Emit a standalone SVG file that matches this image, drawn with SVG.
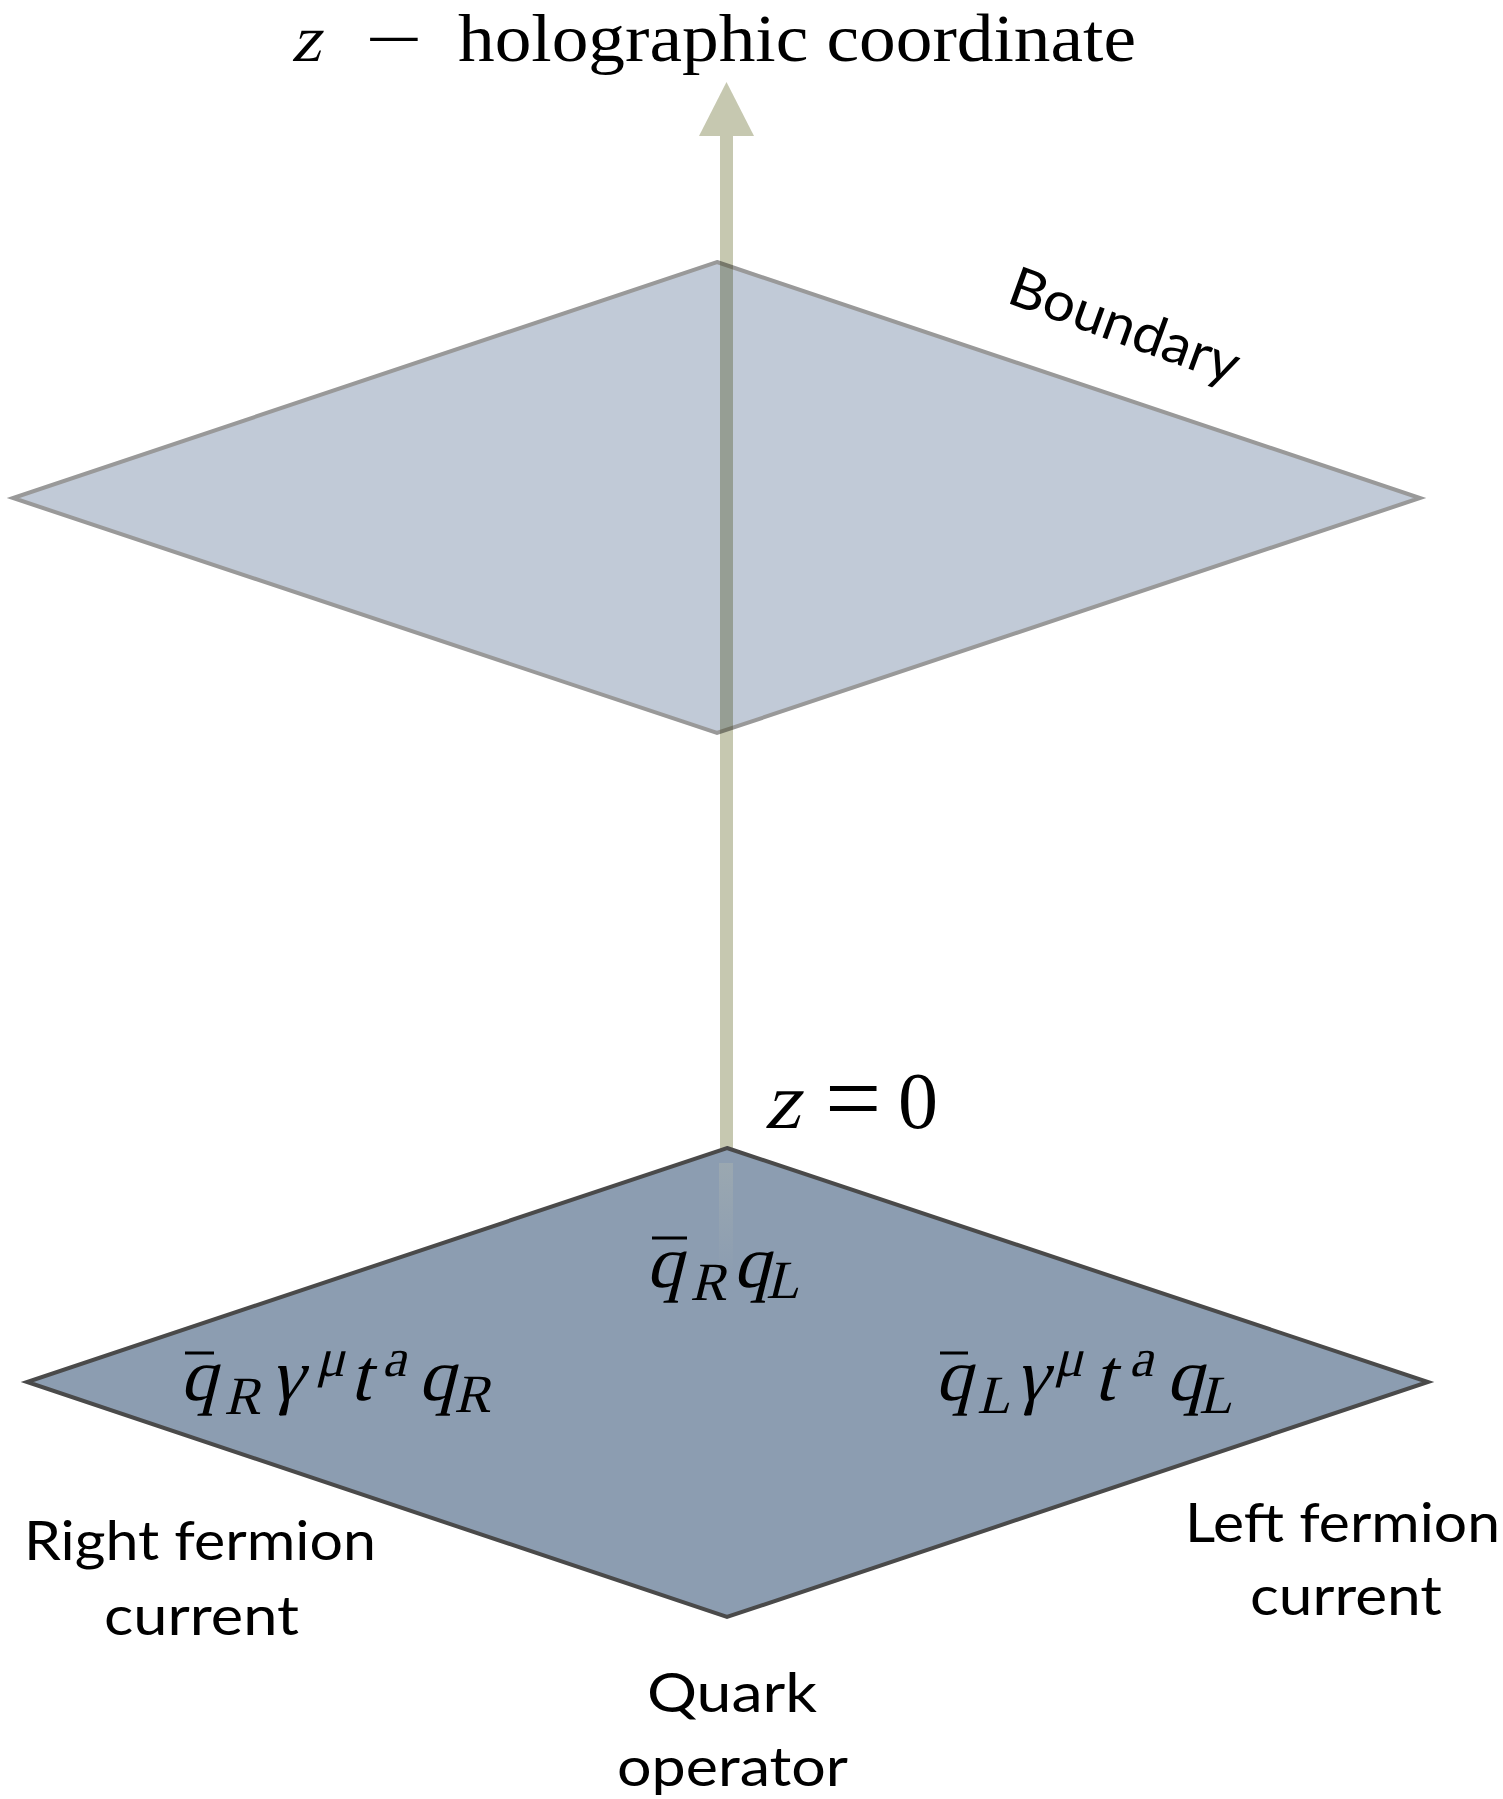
<svg xmlns="http://www.w3.org/2000/svg" width="1503" height="1799" viewBox="0 0 1503 1799">
<style>
.serif{font-family:"Liberation Serif","DejaVu Serif",serif;fill:#000}
.lbl{font-family:Lato,"Open Sans","Liberation Sans",sans-serif;fill:#000;font-size:55px}
.m{font-family:"Liberation Serif","DejaVu Serif",serif;fill:#000;font-size:74px}
.s{font-family:"Liberation Serif","DejaVu Serif",serif;fill:#000;font-size:54px}
.bar{stroke:#000;stroke-width:3}
</style>
<defs>
<linearGradient id="fade" x1="0" y1="0" x2="0" y2="1">
<stop offset="0" stop-color="#c6c8b0" stop-opacity="0.25"/>
<stop offset="1" stop-color="#c6c8b0" stop-opacity="0"/>
</linearGradient>
</defs>
<rect width="1503" height="1799" fill="#fff"/>

<g id="boundary-plane">
<polygon points="717,262 1420,498 717,733 13,498" fill="#c1cad7" stroke="#999999" stroke-width="4"/>
</g>

<g id="connectors" style="mix-blend-mode:multiply">
<rect x="720" y="134" width="13" height="1016" fill="#c6c8b0"/>
<polygon points="726.5,82 699,136 754,136" fill="#c6c8b0"/>
</g>

<g id="z0-plane">
<polygon points="727,1148 1428,1382 727,1617 27,1382" fill="#8c9db1" stroke="#4a4a4a" stroke-width="4"/>
<rect x="719" y="1163" width="14" height="110" fill="url(#fade)"/>
</g>

<g id="axis-label">
<text class="serif" transform="translate(291,61) skewX(-14)" font-size="66">z</text>
<text class="serif" transform="translate(365,61) scale(1.55,1)" font-size="66">−</text>
<text class="serif" x="458" y="61" font-size="67" textLength="678" lengthAdjust="spacingAndGlyphs">holographic coordinate</text>
</g>

<g id="boundary-label">
<text class="lbl" transform="translate(1005,302) rotate(20)" textLength="241" lengthAdjust="spacingAndGlyphs">Boundary</text>
</g>

<g id="z0-label">
<text class="serif" transform="translate(764,1128) skewX(-14)" font-size="80">z</text>
<text class="serif" x="825" y="1132" font-size="100">=</text>
<text class="serif" x="898" y="1128" font-size="80">0</text>
</g>

<g id="quark-operator-formula">
<line class="bar" x1="652" y1="1238" x2="687" y2="1238"/>
<text class="m" transform="translate(646,1287) skewX(-14)">q</text>
<text class="s" transform="translate(690,1300) skewX(-14)">R</text>
<text class="m" transform="translate(733,1287) skewX(-14)">q</text>
<text class="s" transform="translate(766,1298) skewX(-14)">L</text>
</g>

<g id="right-current-formula">
<line class="bar" x1="185" y1="1353" x2="214" y2="1353"/>
<text class="m" transform="translate(180,1400) skewX(-14)">q</text>
<text class="s" transform="translate(224,1414) skewX(-14)">R</text>
<text class="m" transform="translate(270,1400) skewX(-14)">γ</text>
<text class="s" transform="translate(316,1376) skewX(-14)">μ</text>
<text class="m" transform="translate(350,1400) skewX(-14)">t</text>
<text class="s" transform="translate(382,1376) skewX(-14)">a</text>
<text class="m" transform="translate(418,1400) skewX(-14)">q</text>
<text class="s" transform="translate(454,1412) skewX(-14)">R</text>
</g>

<g id="left-current-formula">
<line class="bar" x1="940" y1="1353" x2="968" y2="1353"/>
<text class="m" transform="translate(935,1400) skewX(-14)">q</text>
<text class="s" transform="translate(977,1413) skewX(-14)">L</text>
<text class="m" transform="translate(1015,1400) skewX(-14)">γ</text>
<text class="s" transform="translate(1054,1376) skewX(-14)">μ</text>
<text class="m" transform="translate(1094,1400) skewX(-14)">t</text>
<text class="s" transform="translate(1129,1376) skewX(-14)">a</text>
<text class="m" transform="translate(1166,1400) skewX(-14)">q</text>
<text class="s" transform="translate(1199,1413) skewX(-14)">L</text>
</g>

<g id="right-label">
<text class="lbl" x="24" y="1560" textLength="352" lengthAdjust="spacingAndGlyphs">Right fermion</text>
<text class="lbl" x="104" y="1635" textLength="195" lengthAdjust="spacingAndGlyphs">current</text>
</g>

<g id="left-label">
<text class="lbl" x="1185" y="1542" textLength="315" lengthAdjust="spacingAndGlyphs">Left fermion</text>
<text class="lbl" x="1250" y="1615" textLength="192" lengthAdjust="spacingAndGlyphs">current</text>
</g>

<g id="quark-label">
<text class="lbl" x="647" y="1712" textLength="170" lengthAdjust="spacingAndGlyphs">Quark</text>
<text class="lbl" x="617" y="1786" textLength="231" lengthAdjust="spacingAndGlyphs">operator</text>
</g>
</svg>
